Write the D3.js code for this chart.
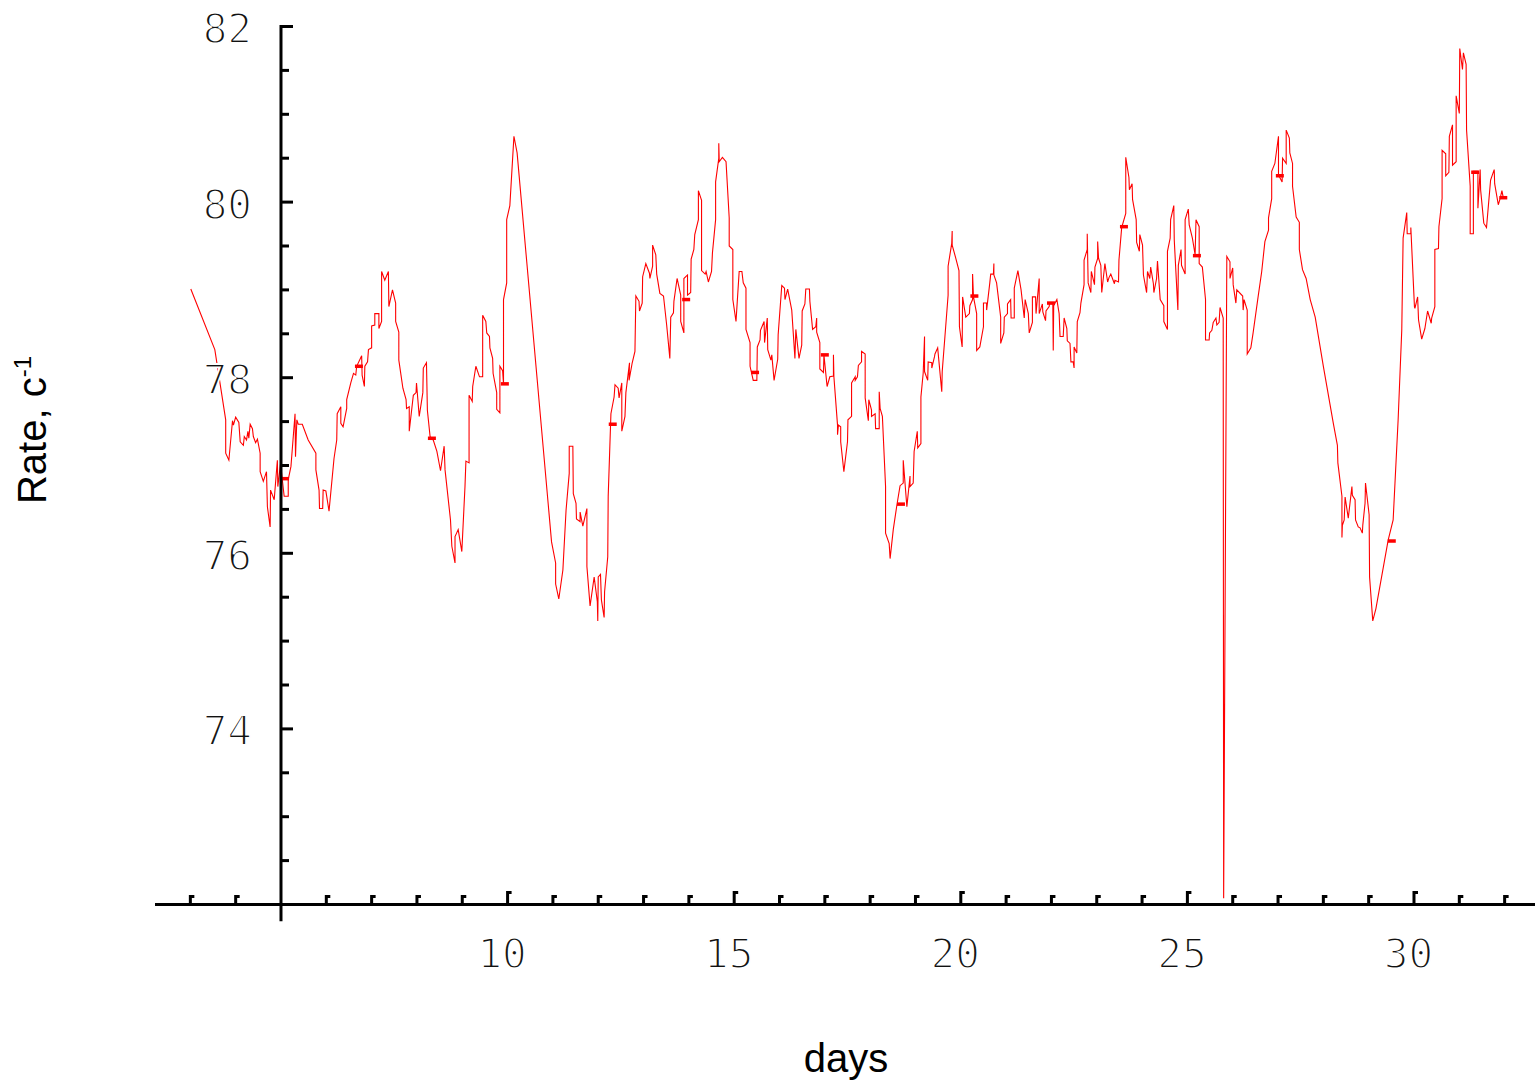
<!DOCTYPE html>
<html><head><meta charset="utf-8">
<script src="https://cdn.jsdelivr.net/npm/d3@7"></script>
<style>html,body{margin:0;padding:0;background:#fff;} svg{display:block}</style>
</head><body><svg id="chart" width="1535" height="1085"></svg>
<script>
// [day, rate]
const readings = [
[3.01,79.01],[3.54,78.32],[3.78,77.52],[3.78,77.14],[3.85,77.06],[3.93,77.51],[3.95,77.46],[4.00,77.55],[4.07,77.49],[4.10,77.27],
[4.17,77.23],[4.19,77.33],[4.24,77.29],[4.27,77.39],[4.29,77.31],[4.32,77.47],[4.37,77.42],[4.39,77.33],[4.44,77.26],[4.48,77.30],
[4.54,77.14],[4.54,76.93],[4.61,76.82],[4.68,76.93],[4.70,76.53],[4.76,76.30],[4.77,76.72],[4.85,76.61],[4.92,77.06],[4.93,76.76],
[4.99,77.02],[5.07,76.65],[5.16,76.65],[5.16,76.84],[5.22,76.99],[5.31,77.59],[5.32,77.10],[5.35,77.52],[5.38,77.47],[5.47,77.47],
[5.60,77.29],[5.77,77.14],[5.77,76.95],[5.84,76.72],[5.85,76.51],[5.92,76.51],[5.93,76.72],[5.99,76.71],[6.06,76.48],[6.17,77.08],
[6.23,77.29],[6.24,77.59],[6.32,77.67],[6.32,77.48],[6.37,77.44],[6.45,77.65],[6.45,77.75],[6.54,77.94],[6.60,78.05],[6.65,78.03],
[6.67,78.13],[6.78,78.25],[6.79,78.03],[6.84,77.90],[6.85,78.13],[6.91,78.18],[6.93,78.32],[7.00,78.34],[7.00,78.59],[7.07,78.60],
[7.07,78.73],[7.16,78.73],[7.16,78.56],[7.22,78.64],[7.22,79.21],[7.29,79.11],[7.37,79.21],[7.38,78.81],[7.46,79.00],[7.53,78.85],
[7.53,78.64],[7.60,78.52],[7.60,78.20],[7.69,77.88],[7.76,77.75],[7.77,77.65],[7.83,77.67],[7.83,77.39],[7.92,77.80],[7.98,77.83],
[7.99,77.94],[8.05,77.56],[8.13,77.83],[8.14,78.11],[8.21,78.17],[8.23,77.63],[8.29,77.33],[8.36,77.29],[8.44,77.16],[8.52,76.94],
[8.60,77.22],[8.62,76.95],[8.74,76.38],[8.77,76.08],[8.84,75.89],[8.84,76.19],[8.91,76.27],[8.99,76.02],[9.06,76.76],[9.08,77.05],
[9.15,77.03],[9.15,77.80],[9.22,77.73],[9.23,77.90],[9.30,78.13],[9.38,78.01],[9.45,78.01],[9.45,78.71],[9.52,78.64],[9.54,78.51],
[9.60,78.47],[9.61,78.34],[9.67,78.22],[9.68,78.05],[9.76,77.83],[9.76,77.64],[9.83,77.60],[9.83,78.13],[9.89,78.08],[9.91,77.93],
[9.91,78.89],[9.98,79.08],[9.98,79.80],[10.05,79.96],[10.14,80.75],[10.21,80.56],[10.97,76.13],[11.06,75.89],[11.06,75.65],[11.13,75.48],
[11.22,75.81],[11.29,76.49],[11.36,76.91],[11.36,77.22],[11.44,77.22],[11.45,76.68],[11.51,76.57],[11.52,76.39],[11.60,76.36],[11.60,76.47],
[11.66,76.31],[11.75,76.51],[11.75,75.85],[11.82,75.40],[11.91,75.73],[11.98,75.45],[11.99,75.23],[12.00,75.73],[12.05,75.76],[12.07,75.47],
[12.13,75.27],[12.14,75.56],[12.21,75.96],[12.22,76.65],[12.28,77.59],[12.35,77.78],[12.37,77.92],[12.44,77.88],[12.46,77.77],[12.52,77.94],
[12.52,77.39],[12.59,77.56],[12.61,77.83],[12.69,78.17],[12.68,77.97],[12.75,78.17],[12.81,78.30],[12.83,78.93],[12.90,78.87],[12.91,78.76],
[12.97,78.85],[12.98,79.15],[13.05,79.30],[13.13,79.19],[13.14,79.13],[13.20,79.27],[13.20,79.51],[13.27,79.40],[13.29,79.18],[13.36,78.96],
[13.44,78.93],[13.51,78.60],[13.58,78.22],[13.60,78.69],[13.66,78.74],[13.67,78.87],[13.74,79.13],[13.82,78.94],[13.82,78.64],[13.89,78.51],
[13.89,79.13],[13.97,79.17],[13.97,78.94],[14.04,78.97],[14.05,79.35],[14.11,79.46],[14.13,79.63],[14.21,79.80],[14.21,80.13],[14.28,80.02],
[14.28,79.22],[14.36,79.18],[14.38,79.21],[14.43,79.09],[14.50,79.21],[14.52,79.42],[14.59,79.80],[14.59,80.23],[14.66,80.50],[14.66,80.67],
[14.67,80.46],[14.74,80.51],[14.82,80.46],[14.89,79.82],[14.89,79.50],[14.97,79.46],[14.97,78.89],[15.04,78.64],[15.11,79.21],[15.17,79.21],
[15.20,79.08],[15.26,79.02],[15.26,78.55],[15.35,78.40],[15.35,78.13],[15.42,77.97],[15.50,77.97],[15.51,78.35],[15.57,78.43],[15.58,78.54],
[15.66,78.64],[15.67,78.40],[15.73,78.68],[15.74,78.32],[15.81,78.20],[15.83,78.26],[15.88,77.97],[15.96,78.21],[15.97,78.49],[16.05,79.05],
[16.11,79.02],[16.12,78.89],[16.18,79.01],[16.27,78.77],[16.34,78.22],[16.36,78.55],[16.43,78.22],[16.49,78.37],[16.50,78.76],[16.56,78.84],
[16.58,79.01],[16.66,79.01],[16.67,78.87],[16.73,78.55],[16.80,78.58],[16.82,78.68],[16.82,78.52],[16.89,78.40],[16.89,78.10],[16.97,78.06],
[16.98,78.26],[17.05,77.90],[17.11,78.01],[17.19,78.02],[17.19,78.26],[17.20,78.01],[17.28,77.46],[17.28,77.35],[17.30,77.46],[17.35,77.44],
[17.35,77.27],[17.42,76.93],[17.50,77.27],[17.51,77.52],[17.59,77.56],[17.59,77.94],[17.67,78.01],[17.67,77.97],[17.72,78.01],[17.74,78.14],
[17.81,78.18],[17.81,78.30],[17.89,78.27],[17.89,77.77],[17.96,77.51],[17.97,77.75],[18.03,77.63],[18.03,77.56],[18.11,77.59],[18.12,77.42],
[18.20,77.42],[18.20,77.84],[18.22,77.65],[18.27,77.56],[18.34,76.76],[18.34,76.23],[18.42,76.11],[18.44,75.94],[18.51,76.27],[18.59,76.55],
[18.66,76.77],[18.73,76.80],[18.73,77.06],[18.81,76.53],[18.88,76.88],[18.88,76.76],[18.95,76.80],[18.97,77.16],[19.04,77.39],[19.05,77.20],
[19.12,77.25],[19.12,77.78],[19.17,78.05],[19.20,78.47],[19.20,78.07],[19.27,77.97],[19.28,78.18],[19.36,78.17],[19.36,78.11],[19.42,78.24],
[19.43,78.27],[19.49,78.34],[19.58,77.84],[19.59,78.07],[19.65,78.47],[19.72,78.94],[19.72,79.27],[19.80,79.53],[19.81,79.67],[19.81,79.51],
[19.89,79.36],[19.96,79.22],[19.97,78.58],[20.03,78.35],[20.04,78.92],[20.11,78.69],[20.19,78.73],[20.20,78.82],[20.26,78.89],[20.26,79.18],
[20.28,78.92],[20.35,78.73],[20.35,78.31],[20.42,78.35],[20.50,78.58],[20.50,78.85],[20.57,78.85],[20.57,78.77],[20.64,79.08],[20.66,79.18],
[20.72,79.18],[20.73,79.30],[20.73,79.17],[20.79,79.08],[20.88,78.69],[20.88,78.39],[20.95,78.51],[20.96,78.69],[21.03,78.73],[21.03,78.84],
[21.10,78.89],[21.11,78.68],[21.18,78.68],[21.18,79.02],[21.26,79.22],[21.33,79.00],[21.40,78.68],[21.42,78.89],[21.49,78.73],[21.51,78.51],
[21.58,78.63],[21.58,78.92],[21.65,78.92],[21.66,78.73],[21.73,79.13],[21.73,78.73],[21.80,78.84],[21.81,78.75],[21.87,78.65],[21.88,78.76],
[21.95,78.81],[21.96,78.85],[22.03,78.85],[22.04,78.31],[22.05,78.82],[22.12,78.89],[22.17,78.73],[22.19,78.47],[22.26,78.47],[22.28,78.68],
[22.34,78.56],[22.35,78.42],[22.41,78.39],[22.43,78.18],[22.48,78.18],[22.50,78.11],[22.50,78.35],[22.56,78.28],[22.57,78.64],[22.63,78.74],
[22.65,78.85],[22.72,79.06],[22.72,79.34],[22.79,79.46],[22.79,79.64],[22.81,79.08],[22.87,78.97],[22.88,79.21],[22.95,79.06],[22.96,79.26],
[23.02,79.36],[23.02,79.55],[23.04,79.36],[23.09,79.28],[23.11,78.97],[23.18,79.30],[23.24,79.09],[23.27,79.14],[23.31,79.18],[23.39,79.07],
[23.40,79.11],[23.48,79.09],[23.49,79.34],[23.55,79.71],[23.64,79.87],[23.64,80.51],[23.71,80.28],[23.72,80.14],[23.78,80.21],[23.79,80.03],
[23.87,79.80],[23.88,79.54],[23.94,79.44],[23.95,79.63],[24.01,79.51],[24.03,79.17],[24.10,78.97],[24.12,79.21],[24.17,79.13],[24.19,79.26],
[24.25,79.07],[24.26,78.97],[24.32,79.13],[24.34,79.33],[24.40,78.89],[24.48,78.82],[24.48,78.64],[24.56,78.55],[24.56,79.44],[24.62,79.59],
[24.63,79.80],[24.70,79.96],[24.71,79.57],[24.79,78.77],[24.80,79.28],[24.86,79.46],[24.87,79.28],[24.95,79.18],[24.95,79.80],[25.02,79.92],
[25.04,79.74],[25.11,79.59],[25.17,79.40],[25.19,79.80],[25.26,79.72],[25.26,79.30],[25.33,79.26],[25.40,78.89],[25.40,78.43],[25.48,78.43],
[25.49,78.51],[25.54,78.54],[25.57,78.63],[25.63,78.68],[25.65,78.60],[25.70,78.63],[25.72,78.80],[25.79,78.68],[25.80,72.07],[25.87,79.38],
[25.94,79.32],[25.94,79.13],[26.00,79.25],[26.01,79.06],[26.07,78.85],[26.09,79.00],[26.22,78.93],[26.23,78.77],[26.25,78.89],[26.32,78.77],
[26.32,78.27],[26.40,78.34],[26.45,78.51],[26.56,78.92],[26.64,79.21],[26.71,79.55],[26.79,79.68],[26.79,79.82],[26.86,80.04],[26.86,80.35],
[26.93,80.44],[27.01,80.75],[27.01,80.31],[27.09,80.23],[27.10,80.50],[27.18,80.44],[27.18,80.82],[27.25,80.73],[27.26,80.56],[27.32,80.44],
[27.32,80.18],[27.40,79.83],[27.47,79.77],[27.47,79.46],[27.54,79.23],[27.62,79.13],[27.71,78.89],[27.82,78.69],[28.00,78.13],[28.22,77.48],
[28.31,77.23],[28.32,77.03],[28.41,76.65],[28.41,76.18],[28.42,76.32],[28.46,76.38],[28.48,76.64],[28.55,76.40],[28.63,76.76],[28.64,76.66],
[28.70,76.61],[28.71,76.38],[28.77,76.30],[28.81,76.29],[28.86,76.23],[28.87,76.32],[28.92,76.57],[28.93,76.80],[29.01,76.44],[29.02,75.73],
[29.09,75.23],[29.16,75.37],[29.43,76.15],[29.54,76.38],[29.65,77.52],[29.73,78.54],[29.76,79.59],[29.84,79.88],[29.85,79.64],[29.93,79.64],
[29.93,79.71],[30.01,78.81],[30.02,78.79],[30.08,78.92],[30.10,78.66],[30.17,78.44],[30.24,78.56],[30.30,78.76],[30.38,78.62],[30.39,78.68],
[30.46,78.81],[30.46,79.46],[30.54,79.47],[30.55,79.72],[30.62,80.04],[30.62,80.59],[30.70,80.55],[30.70,80.30],[30.77,80.34],[30.78,80.75],
[30.85,80.88],[30.85,80.42],[30.93,80.46],[30.93,81.21],[31.00,81.01],[31.01,81.75],[31.07,81.51],[31.09,81.70],[31.15,81.57],[31.16,80.82],
[31.24,80.18],[31.24,79.64],[31.31,79.64],[31.31,80.35],[31.41,80.35],[31.41,79.93],[31.46,80.37],[31.47,80.14],[31.54,79.76],[31.60,79.71],
[31.69,80.25],[31.77,80.37],[31.78,80.21],[31.86,79.97],[31.90,80.04],[31.94,80.13],[31.97,80.05],[32.05,80.04]
];
// highlighted samples [day, rate]
const samples = [
[5.09,76.85],[6.72,78.13],[8.33,77.31],[9.94,77.93],[12.32,77.47],[13.94,78.89],[15.46,78.06],[17.00,78.26],[18.68,76.56],
[20.30,78.93],[21.99,78.85],[23.60,79.72],[25.21,79.39],[27.04,80.30],[29.51,76.14],[31.35,80.34],[31.97,80.05]
];
const xMajorTicks = [10,15,20,25,30];
const xTickLabels = ["10","15","20","25","30"];
const xMinorTicks = [3,4,6,7,8,9,11,12,13,14,16,17,18,19,21,22,23,24,26,27,28,29,31,32];
const yMajorTicks = [74,76,78,80,82];
const yTickLabels = ["74","76","78","80","82"];
const yMinorTicks = [72.5,73,73.5,74.5,75,75.5,76.5,77,77.5,78.5,79,79.5,80.5,81,81.5];
const xTitle = "days";
const yTitle = "Rate, c";
const yTitleSup = "-1";

const svg = d3.select("#chart");
const x = d3.scaleLinear().domain([2.22, 32.67]).range([155, 1535]);
const y = d3.scaleLinear().domain([72, 82]).range([904.5, 26.5]);
const x0 = x(5), y0 = y(72);

// data line
svg.append("path")
  .datum(readings)
  .attr("fill", "none")
  .attr("stroke", "#ff0000")
  .attr("stroke-width", 1.1)
  .attr("stroke-linejoin", "miter")
  .attr("d", d3.line().x(d => x(d[0])).y(d => y(d[1])));

svg.append("g").selectAll("line").data(samples).join("line")
  .attr("x1", d => x(d[0]) - 4).attr("x2", d => x(d[0]) + 4)
  .attr("y1", d => y(d[1])).attr("y2", d => y(d[1]))
  .attr("stroke", "#ff0000").attr("stroke-width", 3.5);

const axes = svg.append("g").attr("stroke", "#000").attr("fill", "none").attr("stroke-width", 3);
axes.append("line").attr("x1", x.range()[0]).attr("x2", x.range()[1]).attr("y1", y0).attr("y2", y0);
axes.append("line").attr("x1", x0).attr("x2", x0).attr("y1", y(71.81)).attr("y2", y(82) - 1.5);

axes.selectAll(".xmin").data(xMinorTicks).join("path")
  .attr("d", d => `M${x(d)},${y0} V${y0 - 8} h4`);
axes.selectAll(".xmaj").data(xMajorTicks).join("path")
  .attr("d", d => `M${x(d)},${y0} V${y0 - 12} h4`);
axes.selectAll(".ymin").data(yMinorTicks).join("path")
  .attr("d", d => `M${x0},${y(d)} H${x0 + 8}`);
axes.selectAll(".ymaj").data(yMajorTicks).join("path")
  .attr("d", d => `M${x0},${y(d)} H${x0 + 12}`);

const tickFont = "'DejaVu Sans Mono', monospace";
function thinText(sel) {
  // white outline painted over the fill thins the glyph strokes
  sel.attr("font-family", tickFont).attr("font-size", 41).attr("fill", "#111")
     .attr("stroke", "#fff").attr("stroke-width", 1.8).attr("paint-order", "fill");
}
svg.append("g").selectAll("text").data(xMajorTicks).join("text")
  .attr("x", d => x(d) - 5.5).attr("y", 968)
  .attr("text-anchor", "middle")
  .call(thinText)
  .text((d, i) => xTickLabels[i]);
svg.append("g").selectAll("text").data(yMajorTicks).join("text")
  .attr("x", 252).attr("y", d => y(d) + 16.5)
  .attr("text-anchor", "end")
  .call(thinText)
  .text((d, i) => yTickLabels[i]);

svg.append("text").attr("x", 846).attr("y", 1072)
  .attr("text-anchor", "middle")
  .attr("font-family", "'Liberation Sans', Arial, sans-serif").attr("font-size", 40).attr("fill", "#000")
  .text(xTitle);

const yt = svg.append("text").attr("transform", "translate(46,430) rotate(-90)")
  .attr("text-anchor", "middle")
  .attr("font-family", "'Liberation Sans', Arial, sans-serif").attr("font-size", 40).attr("fill", "#000");
yt.append("tspan").text(yTitle);
yt.append("tspan").attr("dy", -15).attr("font-size", 24).text(yTitleSup);
</script>
</body></html>
